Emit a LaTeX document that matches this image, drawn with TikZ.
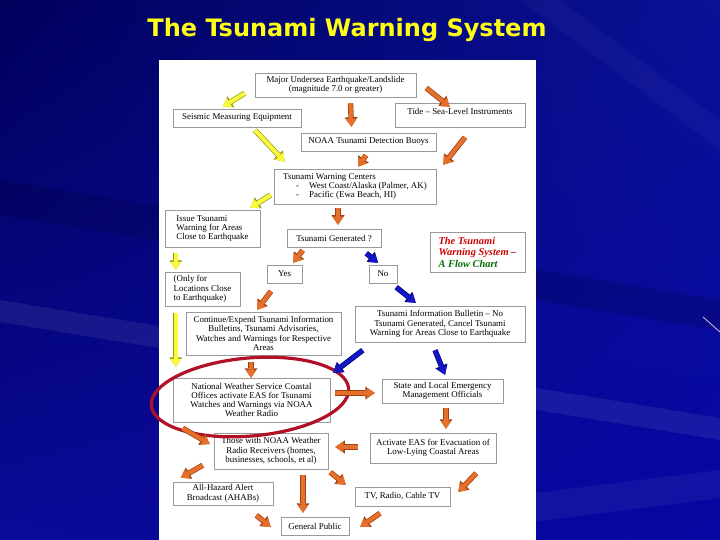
\documentclass[tikz,border=0pt]{standalone}
\usepackage{fontspec}
\setmainfont{Liberation Serif}
\newfontfamily\headfont{DejaVu Sans}
\usetikzlibrary{arrows.meta,shadings}
\definecolor{slideul}{RGB}{0,0,92}
\definecolor{slideur}{RGB}{10,18,150}
\definecolor{slidell}{RGB}{10,10,152}
\definecolor{slidelr}{RGB}{6,6,162}
\definecolor{headyellow}{RGB}{255,255,20}
\definecolor{ylfill}{RGB}{250,250,60}
\definecolor{yledge}{RGB}{150,150,20}
\definecolor{orfill}{RGB}{228,112,44}
\definecolor{oredge}{RGB}{160,64,16}
\definecolor{blfill}{RGB}{20,20,200}
\definecolor{bledge}{RGB}{0,0,110}
\definecolor{ringred}{RGB}{176,16,40}
\definecolor{chartred}{RGB}{204,0,0}
\definecolor{chartgreen}{RGB}{0,110,0}
\tikzset{
	box/.style={draw=gray!80, line width=0.5pt, fill=white, inner sep=0pt, align=center,
		font=\fontsize{8.9}{9.3}\selectfont},
	flow/.style 2 args={preaction={draw=#2, line width=5.4pt, -{Triangle[width=13pt,length=9.5pt,line width=0pt]}},
		draw=#1, line width=4pt, -{Triangle[width=11pt,length=8pt,line width=0pt]}},
	ylw/.style={flow={ylfill}{yledge}},
	org/.style={flow={orfill}{oredge}},
	blu/.style={flow={blfill}{bledge}},
}
\begin{document}
\begin{tikzpicture}[x=1pt,y=-1pt]
	\useasboundingbox (0,0) rectangle (720,540);
	\shade[upper left=slideul, upper right=slideur, lower left=slidell, lower right=slidelr] (0,0) rectangle (720,540);
	\fill[white, opacity=0.07] (0,300) -- (720,418) -- (720,440) -- (0,322) -- cycle;
	\fill[white, opacity=0.05] (0,560) -- (720,470) -- (720,498) -- (0,590) -- cycle;
	\fill[black, opacity=0.12] (0,180) -- (720,300) -- (720,330) -- (0,215) -- cycle;
	\fill[white, opacity=0.03] (560,0) -- (720,120) -- (720,150) -- (520,0) -- cycle;
	\draw[white!75!violet, line width=0.8pt] (703,317) -- (720,332);
	\node[font=\headfont\bfseries\fontsize{24}{28}\selectfont, text=headyellow] (title) at (347,30) {The Tsunami Warning System};
	\fill[white] (159,60) rectangle (536,540);

	\node[box, minimum width=161, minimum height=24] (major) at (335.5,85) {Major Undersea Earthquake/Landslide\\(magnitude 7.0 or greater)};
	\node[box, minimum width=128, minimum height=18] (seismic) at (237,118) {Seismic Measuring Equipment};
	\node[box, minimum width=130, minimum height=24, text depth=8pt] (tide) at (460,115) {Tide -- Sea-Level Instruments};
	\node[box, minimum width=135, minimum height=18] (buoys) at (368.5,142) {NOAA Tsunami Detection Buoys};
	\node[box, minimum width=162, minimum height=35, align=left] (centers) at (355,186.5) {Tsunami Warning Centers\\\hspace*{13pt}-\hspace*{10pt}West Coast/Alaska (Palmer, AK)\\\hspace*{13pt}-\hspace*{10pt}Pacific (Ewa Beach, HI)};
	\node[box, minimum width=95, minimum height=37, align=left] (issue) at (212.5,228.5) {Issue Tsunami\\Warning for Areas\\Close to Earthquake};
	\node[box, minimum width=94, minimum height=18] (generated) at (334,238) {Tsunami Generated ?};
	\node[box, minimum width=95, minimum height=40, align=left, font=\fontsize{10.4}{11.5}\selectfont\bfseries\itshape] (chart) at (477.5,252) {\textcolor{chartred}{The Tsunami}\\\textcolor{chartred}{Warning System --}\\\textcolor{chartgreen}{A Flow Chart}};
	\node[box, minimum width=35, minimum height=18] (yes) at (284.5,274) {Yes};
	\node[box, minimum width=28, minimum height=18] (no) at (383,274) {No};
	\node[box, minimum width=75, minimum height=34, align=left] (only) at (202.5,289) {(Only for\\Locations Close\\to Earthquake)};
	\node[box, minimum width=155, minimum height=43] (continue) at (263.5,333.5) {Continue/Expend Tsunami Information\\Bulletins, Tsunami Advisories,\\Watches and Warnings for Respective\\Areas};
	\node[box, minimum width=170, minimum height=36] (bulletin) at (440,324) {Tsunami Information Bulletin -- No\\Tsunami Generated, Cancel Tsunami\\Warning for Areas Close to Earthquake};
	\node[box, minimum width=157, minimum height=44] (nws) at (251.5,400) {National Weather Service Coastal\\Offices activate EAS for Tsunami\\Watches and Warnings via NOAA\\Weather Radio};
	\node[box, minimum width=121, minimum height=24] (state) at (442.5,391) {State and Local Emergency\\Management Officials};
	\node[box, minimum width=114, minimum height=36] (those) at (271,451) {Those with NOAA Weather\\Radio Receivers (homes,\\businesses, schools, et al)};
	\node[box, minimum width=126, minimum height=30] (activate) at (433,448) {Activate EAS for Evacuation of\\Low-Lying Coastal Areas};
	\node[box, minimum width=100, minimum height=23] (ahabs) at (223,493.5) {All-Hazard Alert\\Broadcast (AHABs)};
	\node[box, minimum width=95, minimum height=19] (tv) at (402.5,496.5) {TV, Radio, Cable TV};
	\node[box, minimum width=68, minimum height=18] (public) at (315,526) {General Public};

	\draw[ringred, line width=3.2pt] (250,397) ellipse [x radius=99, y radius=39, rotate=5];

	\draw[ylw] ([xshift=-10pt,yshift=4pt]major.south west) -- ([xshift=50pt,yshift=2pt]seismic.north west);
	\draw[org] ([xshift=15pt,yshift=-6pt]major.south) -- ([xshift=-17pt,yshift=6pt]buoys.north);
	\draw[org] ([xshift=10pt,yshift=-3pt]major.east) -- ([xshift=55pt,yshift=-4pt]tide.north west);
	\draw[ylw] ([xshift=18pt,yshift=-3pt]seismic.south) -- ([xshift=11pt,yshift=7pt]centers.north west);
	\draw[org] ([xshift=-2.5pt,yshift=-4pt]buoys.south) -- ([xshift=3pt,yshift=2pt]centers.north);
	\draw[org] ([xshift=5pt,yshift=-10pt]tide.south) -- ([xshift=7pt,yshift=4pt]centers.north east);
	\draw[ylw] ([xshift=-3pt,yshift=-8.5pt]centers.west) -- ([xshift=-10pt,yshift=2pt]issue.north east);
	\draw[org] ([xshift=-17pt,yshift=-4pt]centers.south) -- ([xshift=4pt,yshift=4pt]generated.north);
	\draw[ylw] ([xshift=11pt,yshift=-6pt]issue.south west) -- ([xshift=11pt,yshift=2pt]only.north west);
	\draw[org] ([xshift=16pt,yshift=-3pt]generated.south west) -- ([xshift=-9pt,yshift=2pt]yes.north east);
	\draw[blu] ([xshift=-15pt,yshift=-6pt]generated.south east) -- ([xshift=-5pt,yshift=2pt]no.north);
	\draw[org] ([xshift=-13.5pt,yshift=-8pt]yes.south) -- ([xshift=-6.5pt,yshift=2pt]continue.north);
	\draw[blu] ([xshift=-1pt,yshift=-4pt]no.south east) -- ([xshift=61pt,yshift=3pt]bulletin.north west);
	\draw[ylw] ([xshift=11pt,yshift=-7pt]only.south west) -- ([xshift=3pt,yshift=11pt]nws.north west);
	\draw[org] ([xshift=-12.5pt,yshift=-7pt]continue.south) -- ([xshift=-0.5pt]nws.north);
	\draw[blu] ([xshift=8pt,yshift=-8pt]bulletin.south west) -- ([xshift=3pt,yshift=5pt]nws.north east);
	\draw[blu] ([xshift=-5pt,yshift=-8pt]bulletin.south) -- ([xshift=2.5pt,yshift=4pt]state.north);
	\draw[org] ([xshift=5pt,yshift=7pt]nws.east) -- ([xshift=-7pt,yshift=-2pt]state.west);
	\draw[org] ([xshift=3.5pt,yshift=-5pt]state.south) -- ([xshift=13pt,yshift=4pt]activate.north);
	\draw[org] ([xshift=10pt,yshift=-6pt]nws.south west) -- ([xshift=-4pt,yshift=7pt]those.west);
	\draw[org] ([xshift=-12pt,yshift=1pt]activate.west) -- ([xshift=7pt,yshift=4pt]those.east);
	\draw[org] ([xshift=-11pt,yshift=4pt]those.south west) -- ([xshift=8pt,yshift=4pt]ahabs.north west);
	\draw[org] ([xshift=32pt,yshift=-6pt]those.south) -- ([xshift=-12pt,yshift=4pt]public.north);
	\draw[org] ([xshift=2pt,yshift=-3pt]those.south east) -- ([xshift=-9pt,yshift=2pt]tv.north west);
	\draw[org] ([xshift=-20pt,yshift=-10pt]activate.south east) -- ([xshift=8pt,yshift=4.5pt]tv.east);
	\draw[org] ([xshift=-17pt,yshift=-10pt]ahabs.south east) -- ([xshift=-10pt,yshift=-1pt]public.west);
	\draw[org] ([xshift=-22.5pt,yshift=-7pt]tv.south) -- ([xshift=11pt,yshift=-1pt]public.east);
\end{tikzpicture}
\end{document}
